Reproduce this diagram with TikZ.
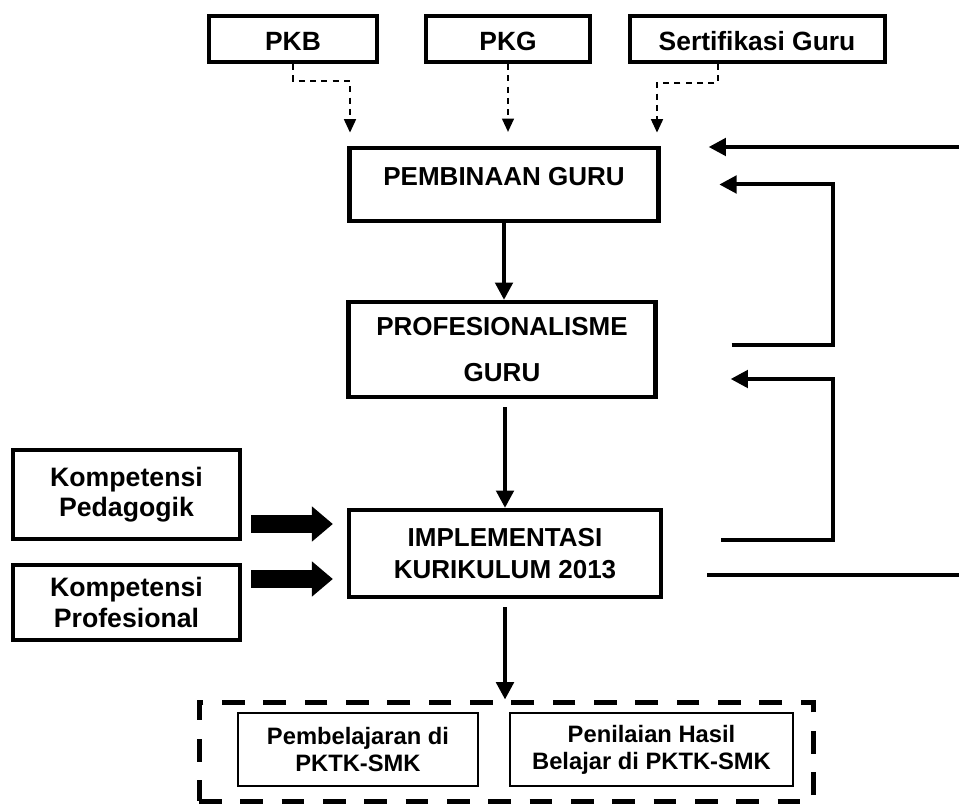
\documentclass[tikz,border=0pt]{standalone}
\usepackage{fontspec}
\setmainfont{Liberation Sans}
\usetikzlibrary{arrows.meta,calc}

\tikzset{every picture/.style={line width=0.75pt}}
\tikzset{
  smallbox/.style={draw, line width=3pt, minimum height=34.5pt, inner sep=0pt, text height=18pt, text depth=0pt, font=\bfseries\fontsize{19.8}{23}\selectfont},
  mainbox/.style={draw, line width=3.2pt, align=center, inner sep=0pt, font=\bfseries\fontsize{19.5}{24}\selectfont},
  sidebox/.style={draw, line width=3pt, align=center, inner sep=0pt, minimum width=170.25pt, font=\bfseries\fontsize{20}{23}\selectfont},
  resultbox/.style={draw, line width=1.5pt, align=center, inner sep=0pt, minimum height=54.75pt, font=\bfseries\fontsize{17.8}{20.25}\selectfont},
  dashlink/.style={line width=1.1pt, dash pattern=on 4.5pt off 4pt, -{Triangle[length=10pt,width=9pt]}},
  flow/.style={line width=3pt, -{Triangle[length=13pt,width=13pt]}},
  fatarrow/.style={line width=13.5pt, -{Triangle[length=15.75pt,width=25.5pt]}, shorten >=10.5pt}
}

\begin{document}
\begin{tikzpicture}[x=0.75pt,y=0.75pt,yscale=-1,xscale=1]
\useasboundingbox (0,0) rectangle (959,805);

% Text Node
\draw (293,39) node (pkb) [smallbox, minimum width=126pt] {PKB};
% Text Node
\draw (508,39) node (pkg) [smallbox, minimum width=123pt] {PKG};
% Text Node
\draw (757,39) node (sert) [smallbox, minimum width=191.25pt] {Sertifikasi Guru};
% Text Node
\draw (504,184.5) node (pembinaan) [mainbox, minimum width=231.75pt, minimum height=54.75pt, text height=14pt, text depth=12.8pt] {PEMBINAAN GURU};
% Text Node
\draw (502,349.5) node (prof) [mainbox, minimum width=230.25pt, minimum height=71.25pt] {PROFESIONALISME\\[11pt]GURU};
% Text Node
\draw (505,553.5) node (impl) [mainbox, minimum width=234pt, minimum height=65.25pt] {IMPLEMENTASI\\KURIKULUM 2013};
% Text Node
\draw (126.5,494.5) node (kped) [sidebox, minimum height=66.75pt] {Kompetensi\\Pedagogik};
% Text Node
\draw (126.5,602.5) node (kprof) [sidebox, minimum height=56.25pt] {Kompetensi\\Profesional};
% Text Node
\draw (506,751.5) node (hasil) [draw, line width=3.75pt, dash pattern=on 17pt off 14pt, minimum width=460.5pt, minimum height=74.25pt] {};
% Text Node
\draw (358,749.5) node (belajar) [resultbox, minimum width=180pt] {Pembelajaran di\\PKTK-SMK};
% Text Node
\draw (651.5,749.5) node (nilai) [resultbox, minimum width=212.25pt] {Penilaian Hasil\\Belajar di PKTK-SMK};

\coordinate (pkbturn) at (350,81);
\coordinate (sertturn) at (657,83);
\coordinate (rightin) at (959,147);
\coordinate (rightout) at (959,575);
\coordinate (loopa) at (833,184.5);
\coordinate (loopb) at (833,379);
\coordinate (pedtail) at (251,524);
\coordinate (proftail) at (251,579);

%Straight Lines
\draw [dashlink, shorten >=10pt] (pkb.south) |- (pkbturn) -- (pembinaan.north -| pkbturn);
\draw [dashlink, shorten >=10.5pt] (pkg.south) -- (pkg.south |- pembinaan.north);
\draw [dashlink, shorten >=10pt] ($(sert.south)+(-39,0)$) |- (sertturn) -- (pembinaan.north -| sertturn);
%Straight Lines
\draw [flow] (pembinaan.south) -- (pembinaan.south |- prof.north);
\draw [flow, shorten <=6pt] (impl.north |- prof.south) -- (impl.north);
\draw [flow, shorten <=6pt] (impl.south) -- (impl.south |- hasil.north);
%Straight Lines
\draw [fatarrow] (pedtail) -- (impl.west |- pedtail);
\draw [fatarrow] (proftail) -- (impl.west |- proftail);
%Straight Lines
\draw [flow, shorten >=36pt] (rightin) -- (pembinaan.east |- rightin);
\draw [flow, shorten <=55.5pt, shorten >=44pt] ($(prof.east)+(0,-4.5)$) -| (loopa) |- (pembinaan.east);
\draw [flow, shorten <=43.5pt, shorten >=54.75pt] ($(impl.east)+(0,-13.5)$) -| (loopb) -- (prof.east |- loopb);
\draw [line width=3pt, shorten <=33pt] (impl.east |- rightout) -- (rightout);

\end{tikzpicture}
\end{document}
